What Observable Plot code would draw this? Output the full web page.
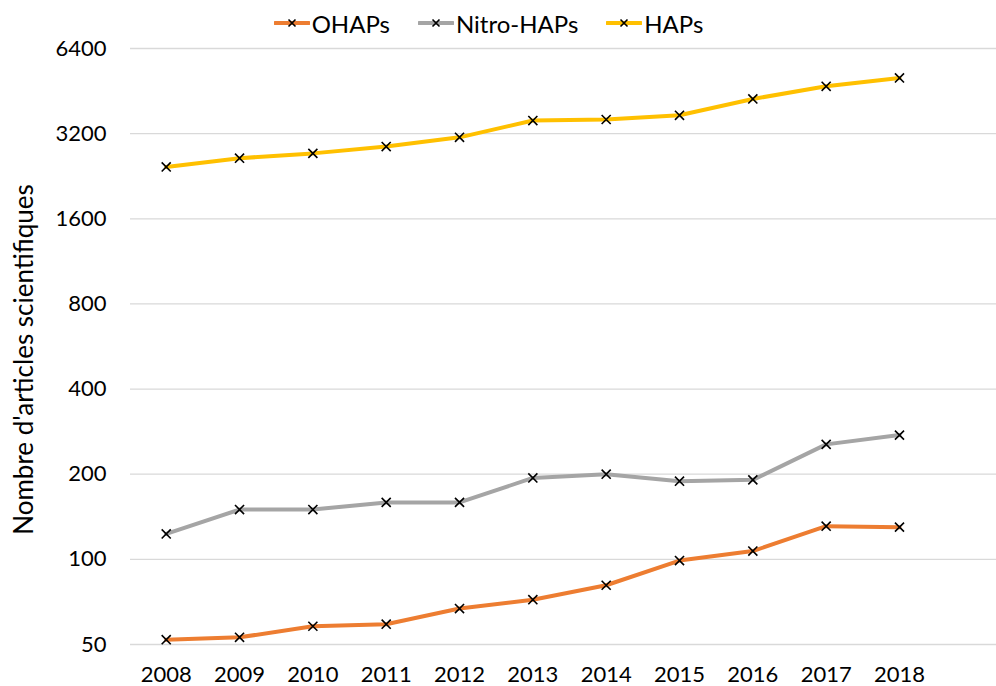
<!DOCTYPE html>
<html>
<head>
<meta charset="utf-8">
<script src="https://cdn.jsdelivr.net/npm/d3@7"></script>
<script src="https://cdn.jsdelivr.net/npm/@observablehq/plot@0.6"></script>
<style>
  html, body { margin: 0; padding: 0; background: #fff; }
  #wrap { width: 996px; height: 686px; position: relative; overflow: hidden; font-family: Lato, "Open Sans", sans-serif; }
  #legend { height: 30px; padding-top: 8px; display: flex; justify-content: center; align-items: center; padding-right: 19px; box-sizing: content-box; font-size: 24px; color: #000; margin-bottom: -8px; }
  .item { display: flex; align-items: center; margin: 0 14px; }
  .item svg { margin-right: 2px; }
</style>
</head>
<body>
<div id="wrap">
  <div id="legend"></div>
  <div id="chart"></div>
</div>
<script>
const years = [2008, 2009, 2010, 2011, 2012, 2013, 2014, 2015, 2016, 2017, 2018];
const ohaps = [52, 53, 58, 59, 67, 72, 81, 99, 107, 131, 130];
const nitroHaps = [123, 150, 150, 159, 159, 194, 200, 189, 191, 255, 275];
const haps = [2440, 2620, 2725, 2880, 3105, 3560, 3590, 3715, 4245, 4705, 5035];
const seriesNames = ["OHAPs", "Nitro-HAPs", "HAPs"];
const seriesColors = ["#ED7D31", "#A5A5A5", "#FFC000"];
const yTicks = [50, 100, 200, 400, 800, 1600, 3200, 6400];
const yLabel = "Nombre d'articles scientifiques";

const seriesValues = [ohaps, nitroHaps, haps];
const data = [];
seriesNames.forEach((name, i) => {
  years.forEach((yr, j) => data.push({series: name, year: yr, value: seriesValues[i][j]}));
});

// Legend
const legend = document.getElementById("legend");
seriesNames.forEach((name, i) => {
  const item = document.createElement("div");
  item.className = "item";
  item.innerHTML = `<svg width="36" height="12" viewBox="0 0 36 12">
      <line x1="1" y1="6" x2="35" y2="6" stroke="${seriesColors[i]}" stroke-width="4" stroke-linecap="round"/>
      <path d="M14.5,2.5L21.5,9.5M21.5,2.5L14.5,9.5" stroke="#000" stroke-width="1.6"/>
    </svg><span>${name}</span>`;
  legend.appendChild(item);
});

const chart = Plot.plot({
  width: 996,
  height: 656,
  marginLeft: 130,
  marginRight: 0,
  marginTop: 18,
  marginBottom: 42,
  style: { fontFamily: "Lato, 'Open Sans', sans-serif", fontSize: "22px", color: "#000", background: "#fff", overflow: "visible" },
  x: { type: "linear", domain: [2007.513, 2019.323] },
  y: { type: "log", base: 2, domain: [50, 6400] },
  color: { domain: seriesNames, range: seriesColors },
  marks: [
    Plot.gridY(yTicks, { stroke: "#d9d9d9", strokeOpacity: 1, strokeWidth: 1.3 }),
    Plot.axisY(yTicks, { tickSize: 0, tickPadding: 24, tickFormat: d => String(d), label: null, fontSize: 22 }),
    Plot.axisX(years, { tickSize: 0, tickPadding: 22, tickFormat: d => String(d), label: null, fontSize: 22 }),
    Plot.text([yLabel], { frameAnchor: "left", text: d => d, rotate: -90, textAnchor: "middle", lineAnchor: "middle", dx: -106, dy: 13, fontSize: 26, fill: "#000" }),
    Plot.line(data, { x: "year", y: "value", z: "series", stroke: "series", strokeWidth: 4, strokeLinejoin: "round", strokeLinecap: "round" }),
    Plot.dot(data, { x: "year", y: "value", symbol: "times", r: 4.2, stroke: "#000", strokeWidth: 1.6 })
  ]
});
document.getElementById("chart").appendChild(chart);
</script>
</body>
</html>
